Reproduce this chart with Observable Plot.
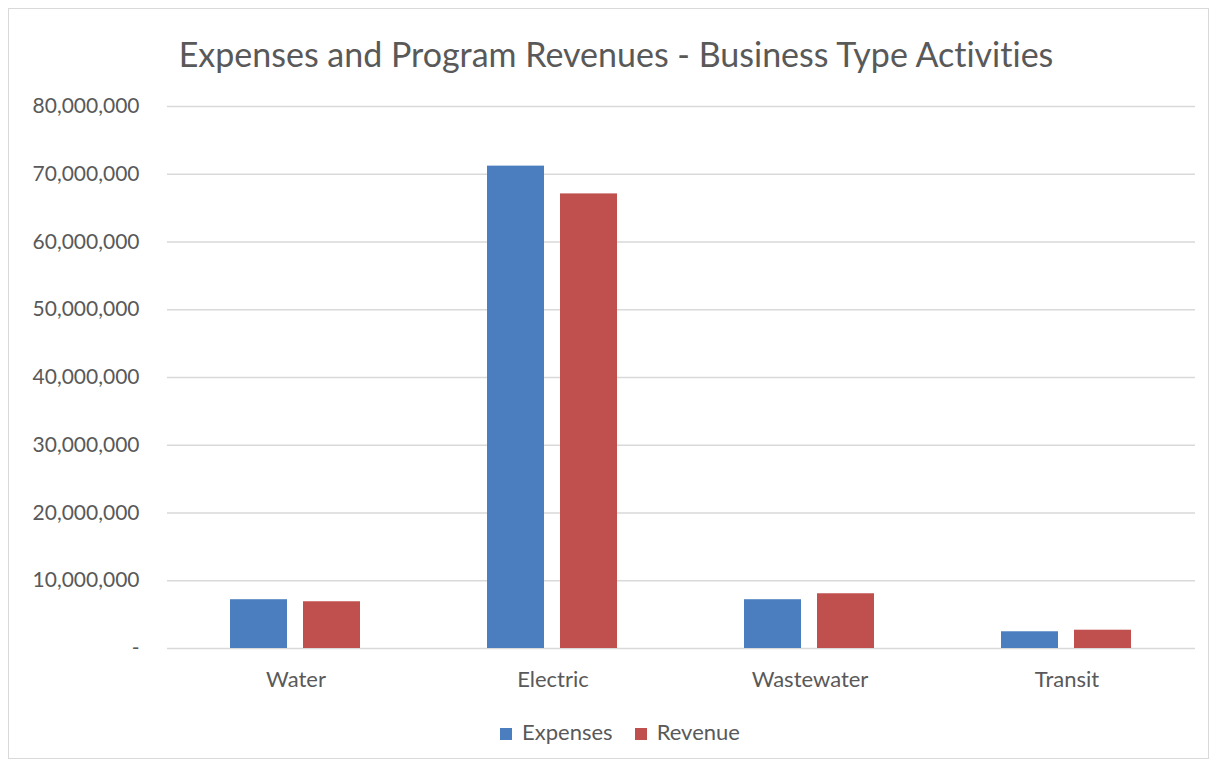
<!DOCTYPE html>
<html>
<head>
<meta charset="utf-8">
<script src="https://cdn.jsdelivr.net/npm/d3@7"></script>
<script src="https://cdn.jsdelivr.net/npm/@observablehq/plot@0.6"></script>
<style>
  html, body { margin: 0; padding: 0; background: #fff; }
  body { width: 1217px; height: 763px; position: relative; overflow: hidden; font-family: Lato, "Open Sans", sans-serif; font-variant-ligatures: none; }
  #frame { position: absolute; left: 8px; top: 8px; width: 1201px; height: 751px; border: 1px solid #d9d9d9; box-sizing: border-box; }
  #title { position: absolute; left: 0; width: 1232px; top: 33px; text-align: center; font-size: 34px; color: #595959; font-variant-ligatures: none; }
  #chart { position: absolute; left: 0; top: 85px; }
  #chart svg text { font-variant-ligatures: none; }
  #legend { position: absolute; left: 0; width: 1240px; top: 718px; text-align: center; font-size: 22px; color: #595959; }
  #legend span.item { margin: 0 11px; }
  #legend i { display: inline-block; width: 12px; height: 12px; margin-right: 10px; vertical-align: 0px; }
</style>
</head>
<body>
<div id="frame"></div>
<div id="title">Expenses and Program Revenues - Business Type Activities</div>
<div id="chart"></div>
<div id="legend"></div>
<script>
const categories = ["Water", "Electric", "Wastewater", "Transit"];
const seriesNames = ["Expenses", "Revenue"];
const expenses = [7200000, 71200000, 7200000, 2470000];
const revenue = [6900000, 67100000, 8080000, 2700000];
const yTicks = [0, 10000000, 20000000, 30000000, 40000000, 50000000, 60000000, 70000000, 80000000];
const colors = ["#4a7ebf", "#c0504d"];

const data = [];
categories.forEach((c, i) => {
  data.push({category: c, series: seriesNames[0], value: expenses[i]});
  data.push({category: c, series: seriesNames[1], value: revenue[i]});
});

const fmt = d3.format(",");
const chart = Plot.plot({
  width: 1217,
  height: 630,
  marginLeft: 166,
  marginRight: 21,
  marginTop: 21,
  marginBottom: 67,
  style: {fontFamily: "Lato, 'Open Sans', sans-serif", fontSize: "21px", color: "#595959", background: "transparent"},
  fx: {domain: categories, padding: 0, label: null},
  x: {domain: seriesNames, paddingInner: 0.216, paddingOuter: 0.845, axis: null},
  y: {domain: [0, 80000000], label: null},
  color: {domain: seriesNames, range: colors},
  marks: [
    Plot.gridY(yTicks, {stroke: "#d9d9d9", strokeOpacity: 1, strokeWidth: 1.5}),
    Plot.axisY(yTicks, {tickSize: 0, tickPadding: 28, fill: "#595959", fontSize: 21, label: null,
      tickFormat: d => d === 0 ? "-" : fmt(d)}),
    Plot.axisFx({tickSize: 0, tickPadding: 23, fill: "#595959", fontSize: 22, label: null, anchor: "bottom"}),
    Plot.barY(data, {fx: "category", x: "series", y: "value", fill: "series"})
  ]
});
document.getElementById("chart").appendChild(chart);

const legend = document.getElementById("legend");
seriesNames.forEach((s, i) => {
  const span = document.createElement("span");
  span.className = "item";
  const sw = document.createElement("i");
  sw.style.background = colors[i];
  span.appendChild(sw);
  span.appendChild(document.createTextNode(s));
  legend.appendChild(span);
});
</script>
</body>
</html>
